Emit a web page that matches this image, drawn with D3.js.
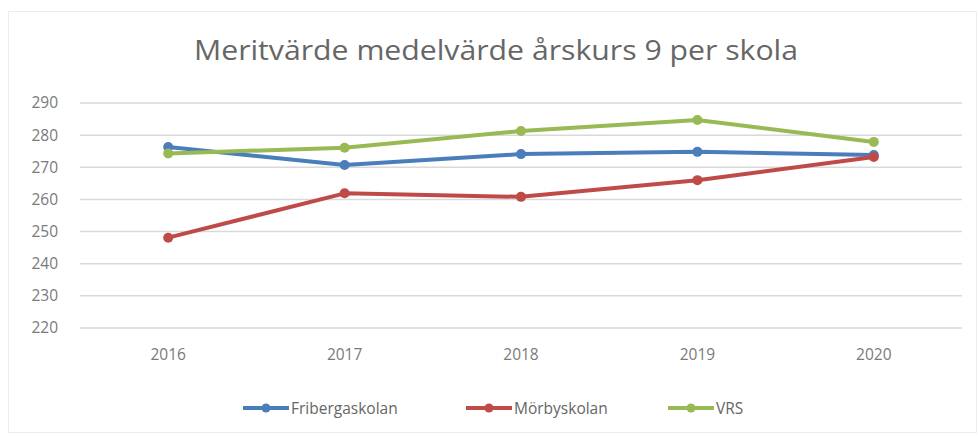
<!DOCTYPE html>
<html>
<head>
<meta charset="utf-8">
<script src="https://cdn.jsdelivr.net/npm/d3@7"></script>
<style>
  body { margin: 0; background: #fff; }
  svg { display: block; font-family: "Open Sans", "Noto Sans", sans-serif; }
  .grid line { stroke: #d9d9d9; stroke-width: 1.5; }
  .axis text { fill: #7a7a7a; font-size: 15.5px; font-family: "Open Sans", sans-serif; }
</style>
</head>
<body>
<svg width="978" height="436"></svg>
<script>
const years = ["2016", "2017", "2018", "2019", "2020"];
const yTicks = [220, 230, 240, 250, 260, 270, 280, 290];
const fribergaskolan = [276.3, 270.7, 274.1, 274.8, 273.8];
const morbyskolan = [248.1, 261.9, 260.8, 266.0, 273.2];
const vrs = [274.3, 276.1, 281.3, 284.7, 277.9];

const seriesNames = ["Fribergaskolan", "Mörbyskolan", "VRS"];
const seriesValues = [fribergaskolan, morbyskolan, vrs];
const colors = ["#4a7ebb", "#be4b48", "#98b954"];

const svg = d3.select("svg");

// faint frame
svg.append("rect")
    .attr("x", 8.5).attr("y", 11.5)
    .attr("width", 968).attr("height", 421)
    .attr("fill", "none")
    .attr("stroke", "#ececec");

svg.append("text")
    .attr("x", 496)
    .attr("y", 60)
    .attr("text-anchor", "middle")
    .attr("fill", "#666")
    .attr("font-size", 27)
    .attr("textLength", 604)
    .attr("lengthAdjust", "spacingAndGlyphs")
    .text("Meritvärde medelvärde årskurs 9 per skola");

const plotLeft = 80, plotRight = 962, plotTop = 103, plotBottom = 328;

const x = d3.scaleBand().domain(years).range([plotLeft, plotRight]);
const y = d3.scaleLinear().domain([220, 290]).range([plotBottom, plotTop]);

svg.append("g")
    .attr("class", "grid")
    .selectAll("line")
    .data(yTicks)
    .enter()
    .append("line")
    .attr("x1", plotLeft).attr("x2", plotRight)
    .attr("y1", d => y(d)).attr("y2", d => y(d));

const yAxis = svg.append("g")
    .attr("class", "axis")
    .attr("transform", "translate(58,0)")
    .call(d3.axisLeft(y).tickValues(yTicks).tickSize(0).tickPadding(0));
yAxis.select(".domain").remove();

const xAxis = svg.append("g")
    .attr("class", "axis")
    .attr("transform", `translate(0,${plotBottom + 18})`)
    .call(d3.axisBottom(x).tickSize(0).tickPadding(3));
xAxis.select(".domain").remove();

const line = d3.line()
    .x((d, i) => x(years[i]) + x.bandwidth() / 2)
    .y(d => y(d));

seriesValues.forEach((vals, s) => {
  const g = svg.append("g");
  g.append("path")
      .datum(vals)
      .attr("fill", "none")
      .attr("stroke", colors[s])
      .attr("stroke-width", 4)
      .attr("stroke-linejoin", "round")
      .attr("d", line);
  g.selectAll("circle")
      .data(vals)
      .enter()
      .append("circle")
      .attr("cx", (d, i) => x(years[i]) + x.bandwidth() / 2)
      .attr("cy", d => y(d))
      .attr("r", 5)
      .attr("fill", colors[s]);
});

// legend
const legendX = [243, 466, 668];
const legend = svg.append("g").attr("transform", "translate(0,408)");
seriesNames.forEach((name, s) => {
  const g = legend.append("g").attr("transform", `translate(${legendX[s]},0)`);
  g.append("line")
      .attr("x1", 0).attr("x2", 46)
      .attr("stroke", colors[s]).attr("stroke-width", 4);
  g.append("circle").attr("cx", 23).attr("r", 4.5).attr("fill", colors[s]);
  g.append("text")
      .attr("x", 48).attr("y", 5.5)
      .attr("fill", "#666")
      .attr("font-size", 15.5)
      .text(name);
});
</script>
</body>
</html>
